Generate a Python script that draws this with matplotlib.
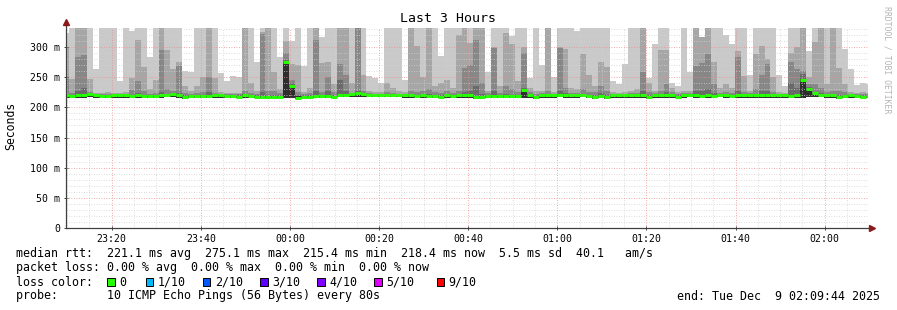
import numpy as np
import matplotlib
matplotlib.use("Agg")
import matplotlib.pyplot as plt
from matplotlib.patches import Rectangle

plt.rcParams['font.family'] = ['DejaVu Sans Mono']

# one column per 80 s probe round, ms
median = [220, 219, 220, 221, 222, 220, 219, 219, 220, 220,
          220, 219, 220, 219, 219, 219, 220, 221, 222, 221,
          217, 219, 219, 219, 219, 220, 220, 219, 219, 218,
          221, 219, 218, 218, 218, 218, 218, 275, 235, 216,
          218, 218, 219, 219, 219, 218, 221, 221, 222, 224,
          222, 221, 221, 221, 221, 221, 221, 220, 220, 219,
          220, 219, 219, 218, 220, 219, 220, 220, 220, 217,
          218, 219, 219, 219, 219, 219, 219, 229, 220, 217,
          220, 220, 220, 221, 220, 220, 220, 221, 219, 217,
          219, 217, 220, 220, 220, 220, 220, 220, 217, 220,
          220, 220, 220, 218, 220, 221, 220, 219, 220, 219,
          221, 220, 219, 220, 220, 220, 220, 220, 220, 220,
          220, 220, 219, 220, 246, 230, 224, 221, 220, 220,
          217, 219, 220, 219, 218, 219]

low = [216, 216, 215, 216, 217, 216, 216, 216, 216, 216,
       216, 216, 216, 216, 215, 216, 216, 217, 217, 216,
       214, 216, 216, 216, 216, 216, 216, 216, 216, 215,
       216, 216, 215, 215, 215, 215, 215, 216, 216, 214,
       215, 215, 216, 216, 216, 215, 217, 217, 217, 218,
       217, 217, 217, 217, 217, 217, 217, 216, 216, 216,
       216, 216, 216, 215, 216, 216, 216, 216, 216, 214,
       215, 216, 216, 216, 216, 216, 216, 216, 216, 214,
       216, 216, 216, 217, 216, 216, 216, 217, 216, 214,
       216, 214, 216, 216, 216, 216, 216, 216, 214, 216,
       216, 216, 216, 215, 216, 217, 216, 216, 216, 216,
       217, 216, 216, 216, 216, 216, 216, 216, 216, 216,
       216, 216, 216, 216, 216, 217, 217, 217, 216, 216,
       214, 216, 216, 216, 215, 216]

# top of each smoke band, outermost (lightest) first
smoke_1 = [323, 332, 332, 332, 332, 264, 332, 332, 332, 244,
           332, 326, 332, 332, 283, 332, 332, 332, 332, 332,
           261, 258, 332, 332, 332, 332, 257, 243, 252, 250,
           332, 332, 276, 332, 332, 332, 283, 332, 310, 332,
           269, 332, 332, 316, 332, 332, 332, 332, 332, 332,
           332, 252, 248, 240, 332, 332, 332, 245, 332, 332,
           332, 332, 332, 286, 332, 332, 332, 332, 332, 332,
           332, 258, 332, 332, 332, 319, 332, 332, 248, 332,
           270, 332, 250, 332, 332, 332, 327, 332, 332, 332,
           332, 332, 244, 239, 272, 332, 332, 332, 249, 305,
           332, 332, 240, 235, 332, 258, 332, 316, 332, 332,
           332, 320, 305, 332, 332, 253, 332, 332, 332, 332,
           253, 236, 332, 332, 332, 294, 332, 332, 332, 332,
           332, 297, 264, 237, 241, 238]

smoke_2 = [300, 247, 332, 332, 247, 224, 224, 226, 224, 224,
           226, 248, 312, 267, 230, 245, 332, 296, 264, 275,
           236, 228, 235, 251, 332, 249, 226, 224, 224, 224,
           332, 240, 228, 325, 332, 258, 230, 310, 272, 270,
           226, 232, 332, 273, 275, 238, 332, 332, 240, 332,
           254, 228, 226, 226, 240, 232, 228, 226, 332, 302,
           250, 332, 235, 240, 245, 232, 320, 332, 307, 332,
           332, 228, 300, 236, 324, 305, 243, 300, 232, 228,
           228, 332, 226, 300, 297, 233, 230, 288, 253, 236,
           275, 267, 226, 224, 226, 228, 230, 332, 240, 228,
           296, 296, 232, 226, 228, 228, 332, 316, 332, 275,
           232, 238, 232, 294, 252, 228, 288, 302, 280, 250,
           226, 224, 290, 300, 332, 250, 309, 332, 238, 332,
           265, 238, 226, 224, 225, 224]

smoke_3 = [247, 224, 283, 287, 225, 222, 222, 222, 222, 222,
           222, 229, 243, 228, 223, 224, 296, 230, 228, 269,
           224, 222, 224, 225, 250, 224, 222, 222, 222, 222,
           227, 224, 222, 322, 228, 228, 224, 290, 245, 226,
           222, 224, 312, 226, 250, 225, 272, 254, 224, 332,
           228, 224, 222, 222, 226, 224, 222, 222, 228, 226,
           227, 230, 226, 224, 228, 224, 228, 265, 270, 311,
           240, 224, 298, 224, 235, 230, 226, 291, 226, 222,
           224, 228, 222, 298, 232, 224, 224, 230, 226, 226,
           235, 228, 222, 222, 222, 224, 224, 258, 226, 224,
           228, 239, 226, 222, 224, 224, 269, 273, 288, 238,
           224, 226, 224, 283, 226, 224, 230, 253, 272, 226,
           222, 222, 276, 264, 260, 238, 238, 232, 226, 228,
           228, 226, 222, 222, 222, 222]

smoke_4 = [221, 221, 228, 232, 221, 221, 221, 221, 221, 221,
           221, 221, 224, 221, 221, 221, 226, 221, 221, 224,
           221, 221, 221, 221, 226, 221, 221, 221, 221, 221,
           223, 221, 221, 225, 221, 221, 221, 278, 240, 221,
           221, 221, 228, 221, 228, 221, 245, 228, 221, 228,
           224, 221, 221, 221, 221, 221, 221, 221, 223, 221,
           221, 223, 221, 221, 223, 221, 223, 226, 228, 235,
           223, 221, 228, 221, 223, 221, 221, 232, 223, 221,
           221, 223, 221, 228, 224, 221, 221, 223, 221, 221,
           224, 221, 221, 221, 221, 221, 221, 228, 221, 221,
           223, 226, 221, 221, 221, 221, 228, 228, 230, 224,
           221, 221, 221, 228, 221, 221, 223, 228, 228, 221,
           221, 221, 240, 232, 255, 234, 226, 224, 221, 221,
           221, 221, 221, 221, 221, 221]

# innermost band (pings 5-6), only visible where it clears the median line
smoke_5 = [219, 219, 222, 223, 219, 219, 219, 219, 219, 219,
           219, 219, 219, 219, 219, 219, 221, 219, 219, 222,
           219, 219, 219, 219, 219, 219, 219, 219, 219, 219,
           222, 219, 219, 219, 219, 219, 219, 276, 236, 219,
           219, 219, 219, 219, 219, 219, 223, 219, 219, 224,
           219, 219, 219, 219, 219, 219, 219, 219, 219, 219,
           219, 219, 219, 219, 219, 219, 219, 221, 219, 219,
           219, 219, 219, 219, 219, 219, 219, 230, 222, 219,
           219, 219, 219, 222, 219, 219, 219, 219, 219, 219,
           219, 219, 219, 219, 219, 219, 219, 222, 219, 219,
           219, 219, 219, 219, 219, 219, 221, 219, 219, 219,
           219, 219, 219, 219, 219, 219, 219, 219, 219, 219,
           219, 219, 219, 219, 247, 231, 222, 219, 219, 219,
           219, 219, 219, 219, 219, 219]

time_labels = ["23:20", "23:40", "00:00", "00:20", "00:40",
               "01:00", "01:20", "01:40", "02:00"]
loss_labels = ["0", "1/10", "2/10", "3/10", "4/10", "5/10", "9/10"]
loss_colors = ["#26ff00", "#00b8ff", "#0059ff", "#5e00ff",
               "#7e00ff", "#dd00ff", "#ff0000"]

W, H = 897, 310


def px(x, y):
    return x / W, 1 - y / H


fig = plt.figure(figsize=(W / 100, H / 100), dpi=100)
ax = fig.add_axes([66 / W, (H - 228) / H, 802 / W, 200 / H])

step = 80 / 60
edges = (np.arange(len(median) + 1) - 0.42) * step
bands = [smoke_1, smoke_2, smoke_3, smoke_4, smoke_5]
shades = ["#c9c9c9", "#a6a6a6", "#878787", "#6a6a6a", "#2e2e2e"]
for band, shade in zip(bands, shades):
    ax.stairs(band, edges, baseline=low, fill=True, color=shade, lw=0, zorder=1)

ax.hlines(median, edges[:-1], edges[1:], colors=loss_colors[0], lw=2.2, zorder=4)

ax.set_xlim(0, 180)
ax.set_ylim(0, 331.7)

# grid: minor 10 ms / 5 min grey, major 50 ms / 20 min red
first_tick = 10 + 16 / 60
major_x = first_tick + 20 * np.arange(len(time_labels))
minor_x = np.arange(first_tick - 10, 180, 5)
dots = (0, (1, 2))
for v in range(10, 331, 10):
    if v % 50:
        ax.axhline(v, color="#d2d2d2", lw=0.6, ls=dots, zorder=2)
for v in minor_x:
    if min(abs(major_x - v)) > 0.1:
        ax.axvline(v, color="#d2d2d2", lw=0.6, ls=dots, zorder=2)
for v in range(50, 331, 50):
    ax.axhline(v, color="#f08c8c", lw=0.6, ls=dots, zorder=2.5)
for v in major_x:
    ax.axvline(v, color="#f08c8c", lw=0.6, ls=dots, zorder=2.5)

ax.set_xticks(major_x)
ax.set_xticklabels(time_labels)
yt = list(range(0, 301, 50))
ax.set_yticks(yt)
ax.set_yticklabels(["0" if v == 0 else f"{v} m" for v in yt])
ax.tick_params(axis="both", labelsize=7.1, length=2.5, width=0.7,
               color="#404040", direction="inout", pad=3)

for s in ax.spines.values():
    s.set_visible(False)
ax.plot([0, 0], [0, 1.02], transform=ax.transAxes, color="#404040",
        lw=0.9, clip_on=False, zorder=5)
ax.plot([0, 1.0], [0, 0], transform=ax.transAxes, color="#404040",
        lw=0.9, clip_on=False, zorder=5)
ax.plot([0], [1.028], transform=ax.transAxes, marker="^", ms=4.5,
        color="#8b1a1a", clip_on=False, zorder=6)
ax.plot([1.0045], [0], transform=ax.transAxes, marker=">", ms=4.5,
        color="#8b1a1a", clip_on=False, zorder=6)

fig.text(*px(448, 19), "Last 3 Hours", ha="center", va="center", fontsize=9.5)
fig.text(*px(11, 126), "Seconds", rotation=90, ha="center", va="center", fontsize=8.3)
fig.text(*px(886.5, 60), "RRDTOOL / TOBI OETIKER", rotation=270,
         ha="center", va="center", fontsize=5.9, color="#b5b5b5")

fs = 8.4
fig.text(*px(16, 257.5), "median rtt:  221.1 ms avg  275.1 ms max  215.4 ms min  "
         "218.4 ms now  5.5 ms sd  40.1   am/s", va="baseline", fontsize=fs)
fig.text(*px(16, 271.5), "packet loss: 0.00 % avg  0.00 % max  0.00 % min  0.00 % now",
         va="baseline", fontsize=fs)
fig.text(*px(16, 285.5), "loss color:", va="baseline", fontsize=fs)
box_x = [107.3, 145.7, 202.7, 260, 317.3, 374.3, 436.7]
for bx, lab, col in zip(box_x, loss_labels, loss_colors):
    x0, y0 = px(bx, 286)
    fig.patches.append(Rectangle((x0, y0), 7.6 / W, 7.6 / H, transform=fig.transFigure,
                                 facecolor=col, edgecolor="black", lw=0.7))
    fig.text(*px(bx + 12, 285.5), lab, va="baseline", fontsize=fs)
fig.text(*px(16, 299.5), "probe:       10 ICMP Echo Pings (56 Bytes) every 80s",
         va="baseline", fontsize=fs)
fig.text(*px(880, 299.5), "end: Tue Dec  9 02:09:44 2025", ha="right",
         va="baseline", fontsize=fs)

fig.savefig("out.png", dpi=100)
